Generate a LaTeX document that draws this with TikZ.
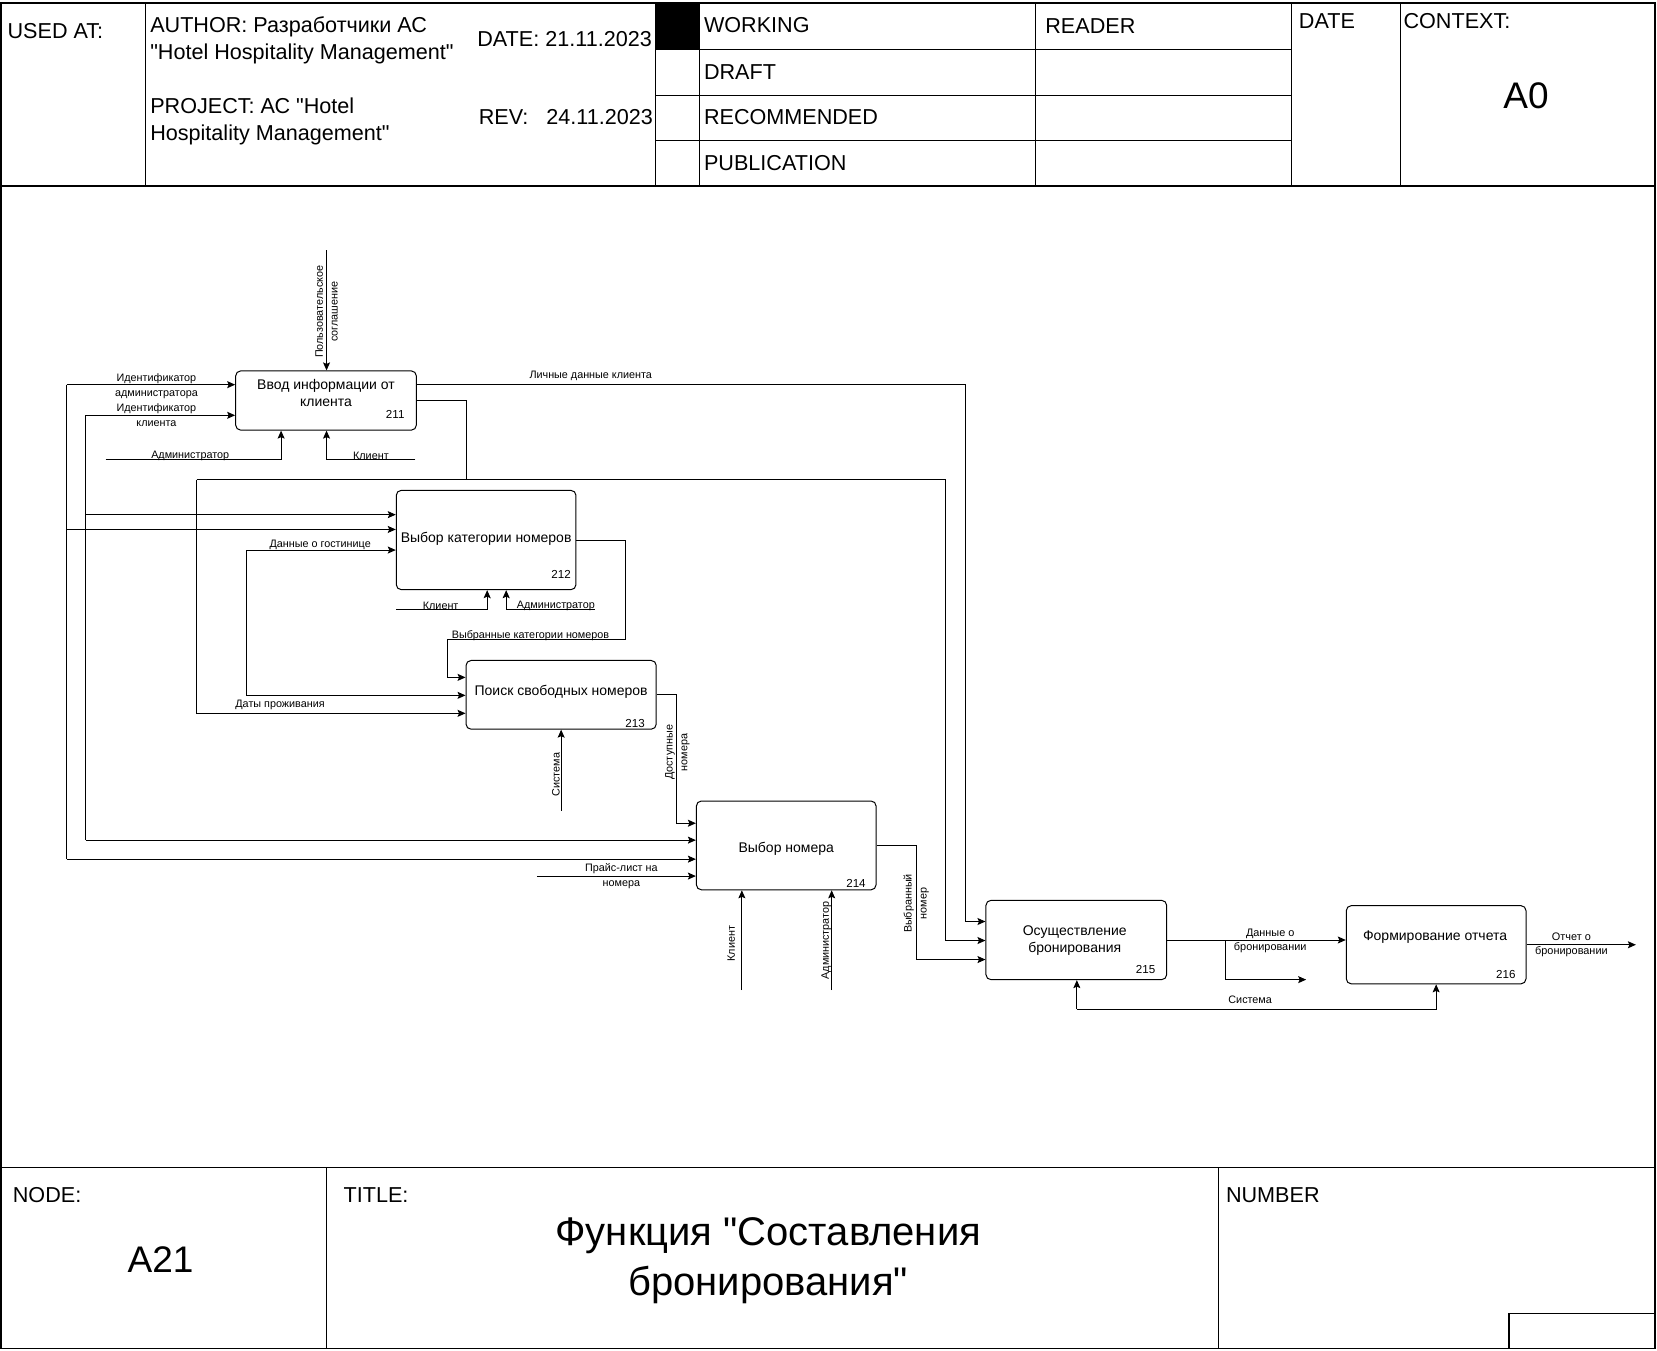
\documentclass[tikz,border=0pt]{standalone}
\usepackage{fontspec}
\setmainfont{Liberation Sans}[Ligatures=TeXOff]
\usetikzlibrary{arrows.meta}
\newcommand\hdrf{\fontsize{21.6pt}{27.5pt}\selectfont}
\newcommand\bigf{\fontsize{37pt}{44pt}\selectfont}
\newcommand\titf{\fontsize{40pt}{49.7pt}\selectfont}
\newcommand\boxf{\fontsize{14pt}{17pt}\selectfont}
\newcommand\lblf{\fontsize{10.8pt}{14.8pt}\selectfont}
\newcommand\smlf{\fontsize{10.9pt}{14.2pt}\selectfont}
\newcommand\numf{\fontsize{11.6pt}{13pt}\selectfont}
\begin{document}
\begin{tikzpicture}[x=1.0568pt,y=-1.0568pt,
  frame/.style={line width=1.6pt},
  cell/.style={line width=1.2pt},
  box/.style={draw, rounded corners=5pt, line width=1pt, inner sep=0pt},
  btxt/.style={font=\boxf, align=center, inner sep=0pt},
  conn/.style={line width=1pt},
  arr/.style={conn, -{Stealth[length=8pt,width=7pt,inset=1.5pt]}},
  lbl/.style={font=\lblf, align=center, inner sep=0pt},
  sml/.style={font=\smlf, align=center, inner sep=0pt},
  num/.style={font=\numf, inner sep=0pt},
  hdr/.style={font=\hdrf, anchor=west, align=left, inner sep=0pt},
  big/.style={font=\bigf, inner sep=0pt}]
\useasboundingbox (0,0) rectangle (1568,1278);
% ---------- frame ----------
\draw[frame] (1,3) rectangle (1566,1276);
\draw[cell] (1,176) -- (1566,176);
\fill (620,3) rectangle (662,47);
\foreach \xx in {138,620,662,980,1222,1325} \draw[cell] (\xx,3) -- (\xx,176);
\foreach \yy in {47,90,133} \draw[cell] (620,\yy) -- (1222,\yy);
\draw[cell] (1,1105) -- (1566,1105);
\draw[cell] (309,1105) -- (309,1276);
\draw[cell] (1153,1105) -- (1153,1276);
\draw[cell] (1428,1276) -- (1428,1243) -- (1566,1243);
% ---------- header texts ----------
\node[hdr] (usedat) at (7,29) {USED AT:};
\node[hdr] (author) at (142,38) {AUTHOR: Разработчики АС\\"Hotel Hospitality Management"};
\node[hdr, anchor=east] (date) at (617,37) {DATE: 21.11.2023};
\node[hdr] (project) at (142,115) {PROJECT: АС "Hotel\\Hospitality Management"};
\node[hdr, anchor=east] (rev) at (618,111) {REV:\ \ \ 24.11.2023};
\node[hdr] (working) at (666,24) {WORKING};
\node[hdr] (draft) at (666,68) {DRAFT};
\node[hdr] (recom) at (666,111) {RECOMMENDED};
\node[hdr] (public) at (666,154) {PUBLICATION};
\node[hdr] (reader) at (989,25) {READER};
\node[hdr] (datec) at (1229,20) {DATE};
\node[hdr] (context) at (1328,20) {CONTEXT:};
\node[big] (a0) at (1444,91) {A0};
% ---------- footer texts ----------
\node[hdr] (nodel) at (12,1131) {NODE:};
\node[hdr] (titlel) at (325,1131) {TITLE:};
\node[hdr] (numberl) at (1160,1131) {NUMBER};
\node[big] (a21) at (152,1192) {A21};
\node[font=\titf, align=center, inner sep=0pt] (title) at (727,1193) {Функция "Составления\\бронирования"};
% ---------- boxes ----------
\node[box, minimum width=180.7pt, minimum height=59.2pt] (b211) at (308.5,379) {};
\node[box, minimum width=179.7pt, minimum height=99.3pt] (b212) at (460,511) {};
\node[box, minimum width=190.2pt, minimum height=68.7pt] (b213) at (531,657.5) {};
\node[box, minimum width=179.7pt, minimum height=88.8pt] (b214) at (744,800) {};
\node[box, minimum width=180.7pt, minimum height=79.3pt] (b215) at (1018.5,889.5) {};
\node[box, minimum width=179.7pt, minimum height=78.2pt] (b216) at (1359,894) {};
\node[btxt] (t211) at (308.5,372) {Ввод информации от\\клиента};
\node[num] (n211) at (374,392) {211};
\node[btxt] (t212) at (460,510) {Выбор категории номеров};
\node[num] (n212) at (531,544) {212};
\node[btxt] (t213) at (531,655) {Поиск свободных номеров};
\node[num] (n213) at (601,685) {213};
\node[btxt] (t214) at (744,803) {Выбор номера};
\node[num] (n214) at (810,836) {214};
\node[btxt] (t215) at (1017,890) {Осуществление\\бронирования};
\node[num] (n215) at (1084,917) {215};
\node[btxt] (t216) at (1358,887) {Формирование отчета};
\node[num] (n216) at (1425,922) {216};
% ---------- connectors ----------
% user agreement
\coordinate (pc) at (309,237);
\draw[arr] (pc) -- (pc |- b211.north);
\node[lbl, rotate=90] (lpc) at (309,295) {Пользовательское\\соглашение};
% admin id
\coordinate (ia) at (63,364);
\coordinate (ia2) at (63,501);
\coordinate (ia3) at (63,813);
\draw[arr] (ia) -- (ia -| b211.west);
\draw[conn] (ia) -- (ia3);
\draw[arr] (ia2) -- (ia2 -| b212.west);
\draw[arr] (ia3) -- (ia3 -| b214.west);
\node[lbl] (lia) at (148,365.5) {Идентификатор\\администратора};
% client id
\coordinate (ic) at (81,393);
\coordinate (ic2) at (81,487);
\coordinate (ic3) at (81,795);
\draw[arr] (ic) -- (ic -| b211.west);
\draw[conn] (ic) -- (ic3);
\draw[arr] (ic2) -- (ic2 -| b212.west);
\draw[arr] (ic3) -- (ic3 -| b214.west);
\node[lbl] (lic) at (148,393) {Идентификатор\\клиента};
% admin -> 211
\coordinate (a1) at (100,435);
\coordinate (a1c) at (266,435);
\draw[arr] (a1) -- (a1c) -- (a1c |- b211.south);
\node[lbl] (la1) at (180,431.5) {Администратор};
% client -> 211
\coordinate (k1) at (393,435);
\coordinate (k1c) at (309,435);
\draw[arr] (k1) -- (k1c) -- (k1c |- b211.south);
\node[lbl] (lk1) at (351,431.5) {Клиент};
% personal data
\coordinate (ld2) at (914,364);
\coordinate (ld3) at (914,872);
\draw[arr] (b211.east |- ld2) -- (ld2) -- (ld3) -- (ld3 -| b215.west);
\node[lbl] (lld) at (559,355.5) {Личные данные клиента};
% stay dates
\coordinate (d1) at (441,379);
\coordinate (dj) at (441,454);
\coordinate (dl) at (186,454);
\coordinate (dr) at (895,454);
\coordinate (dl2) at (186,675);
\coordinate (dr2) at (895,890);
\draw[conn] (b211.east |- d1) -- (d1) -- (dj);
\draw[conn] (dl) -- (dr);
\draw[arr] (dl) -- (dl2) -- (dl2 -| b213.west);
\draw[arr] (dr) -- (dr2) -- (dr2 -| b215.west);
\node[lbl] (ldd) at (265,667.5) {Даты проживания};
% hotel data
\coordinate (g1) at (233,520.5);
\coordinate (g2) at (233,658);
\draw[arr] (g1) -- (g1 -| b212.west);
\draw[arr] (g1) -- (g2) -- (g2 -| b213.west);
\node[lbl] (lg) at (303,515.5) {Данные о гостинице};
% client -> 212
\coordinate (k2) at (375,577);
\coordinate (k2c) at (461,577);
\draw[arr] (k2) -- (k2c) -- (k2c |- b212.south);
\node[lbl] (lk2) at (417,573.5) {Клиент};
% admin -> 212
\coordinate (a2) at (563,577);
\coordinate (a2c) at (479,577);
\draw[arr] (a2) -- (a2c) -- (a2c |- b212.south);
\node[lbl] (la2) at (526,573.5) {Администратор};
% selected categories
\coordinate (vk1) at (592,511);
\coordinate (vk2) at (592,605);
\coordinate (vk3) at (423,605);
\coordinate (vk4) at (423,641);
\draw[arr] (b212.east |- vk1) -- (vk1) -- (vk2) -- (vk3) -- (vk4) -- (vk4 -| b213.west);
\node[lbl] (lvk) at (502,601.5) {Выбранные категории номеров};
% available rooms
\coordinate (dn1) at (640,657.5);
\coordinate (dn2) at (640,779);
\draw[arr] (b213.east) -- (dn1) -- (dn2) -- (dn2 -| b214.west);
\node[lbl, rotate=90] (ldn) at (641,712) {Доступные\\номера};
% system -> 213
\coordinate (s1) at (531,767);
\draw[arr] (s1) -- (s1 |- b213.south);
\node[lbl, rotate=90] (ls1) at (526,733) {Система};
% price list
\coordinate (pl) at (508,829);
\draw[arr] (pl) -- (pl -| b214.west);
\node[lbl] (lpl) at (588,829) {Прайс-лист на\\номера};
% selected room
\coordinate (vn1) at (867,800);
\coordinate (vn2) at (867,908);
\draw[arr] (b214.east) -- (vn1) -- (vn2) -- (vn2 -| b215.west);
\node[lbl, rotate=90] (lvn) at (867,855) {Выбранный\\номер};
% client, admin -> 214
\coordinate (k3) at (702,937);
\draw[arr] (k3) -- (k3 |- b214.south);
\node[lbl, rotate=90] (lk3) at (692,893) {Клиент};
\coordinate (a3) at (787,937);
\draw[arr] (a3) -- (a3 |- b214.south);
\node[lbl, rotate=90] (la3) at (782,890) {Администратор};
% booking data
\draw[arr] (b215.east) -- (b215.east -| b216.west);
\coordinate (db1) at (1160,889.5);
\coordinate (db2) at (1160,927);
\coordinate (db3) at (1236,927);
\draw[arr] (db1) -- (db2) -- (db3);
\node[sml] (ldb) at (1202,890) {Данные о\\бронировании};
% report
\coordinate (ot) at (1548,894);
\draw[arr] (b216.east) -- (ot);
\node[sml] (lot) at (1487,894) {Отчет о\\бронировании};
% system 215/216
\coordinate (sy1) at (1019,955);
\coordinate (sy2) at (1359,955);
\draw[arr] (sy1) -- (sy1 |- b215.south);
\draw[arr] (sy1) -- (sy2) -- (sy2 |- b216.south);
\node[lbl] (lsy) at (1183,946) {Система};
\end{tikzpicture}
\end{document}
